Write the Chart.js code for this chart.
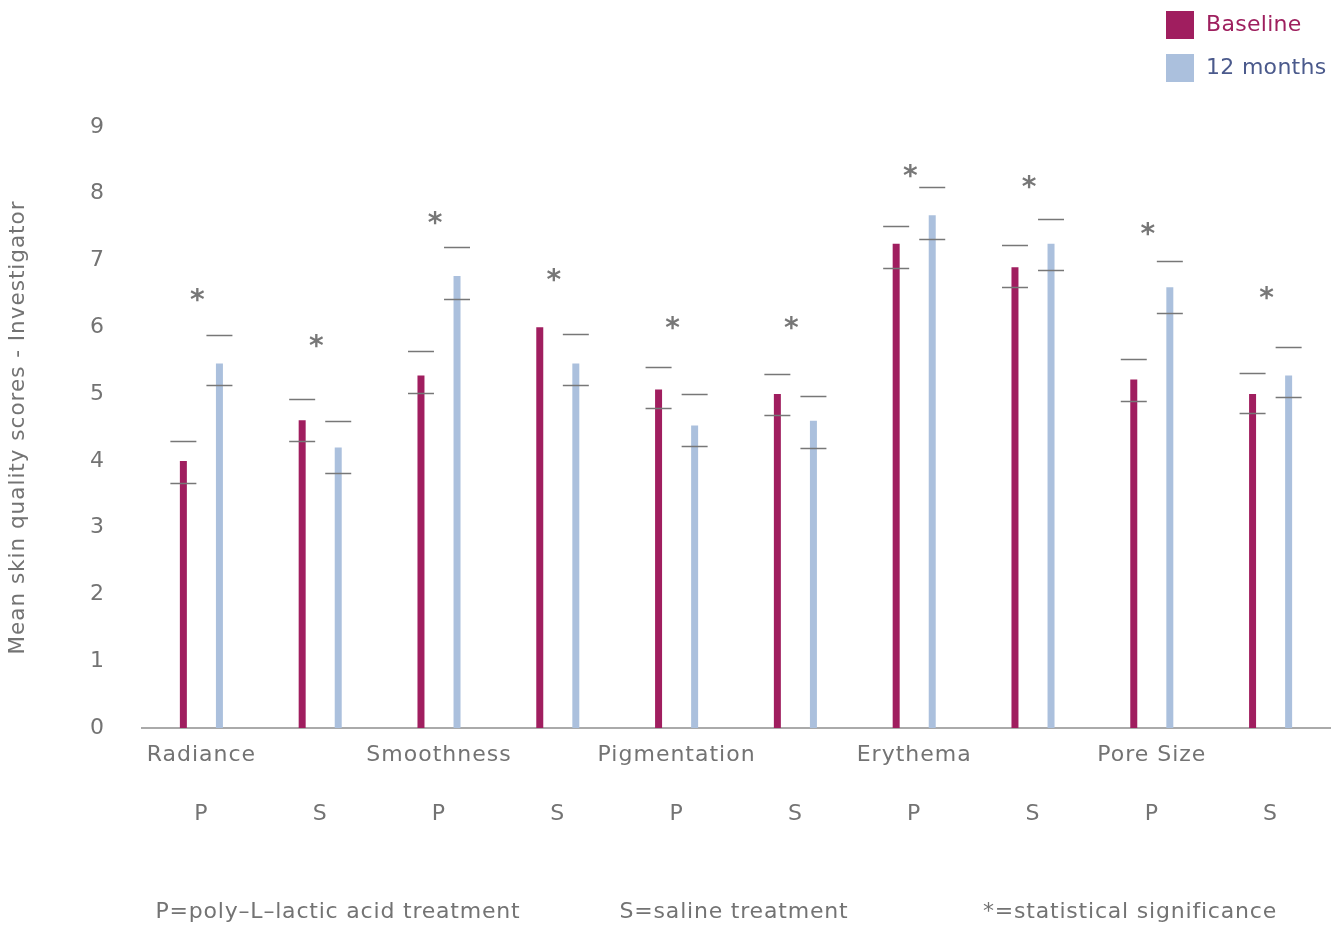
<!DOCTYPE html>
<html>
<head>
<meta charset="utf-8">
<script src="https://cdn.jsdelivr.net/npm/chart.js@4.4.1/dist/chart.umd.min.js"></script>
<style>
  html, body { margin: 0; padding: 0; background: #fff; }
  #wrap { width: 1334px; height: 925px; position: relative; }
</style>
</head>
<body>
<div id="wrap"><canvas id="myChart" width="1334" height="925"></canvas></div>
<script>
// categories and treatment groups
const categories = ['Radiance', 'Smoothness', 'Pigmentation', 'Erythema', 'Pore Size'];
const treatments = ['P', 'S', 'P', 'S', 'P', 'S', 'P', 'S', 'P', 'S'];

// mean scores
const baseline   = [4.0, 4.61, 5.28, 6.0, 5.07, 5.0, 7.25, 6.9, 5.22, 5.0];
const baselineHi = [4.3, 4.92, 5.64, null, 5.4, 5.3, 7.52, 7.23, 5.52, 5.32];
const baselineLo = [3.67, 4.3, 5.01, null, 4.79, 4.68, 6.89, 6.6, 4.89, 4.71];

const months12   = [5.46, 4.2, 6.77, 5.46, 4.53, 4.6, 7.68, 7.25, 6.6, 5.28];
const months12Hi = [5.89, 4.59, 7.2, 5.9, 5.0, 4.97, 8.1, 7.62, 6.99, 5.71];
const months12Lo = [5.13, 3.82, 6.43, 5.13, 4.23, 4.2, 7.32, 6.86, 6.21, 4.95];

// where the significance star sits for each group
const starLevel = [6.51, 5.83, 7.66, 6.82, 6.1, 6.1, 8.37, 8.2, 7.5, 6.54];

const yTicks = [0, 1, 2, 3, 4, 5, 6, 7, 8, 9];
const footnotes = ['P=poly\u2013L\u2013lactic acid treatment', 'S=saline treatment', '*=statistical significance'];

const FONT = 'DejaVu Sans';
const GREY = '#737373';

const labels = treatments.map((t, i) => i % 2 == 0 ? [categories[i / 2], '', t] : ['', '', t]);

// the original font is wider, so spread the letters a bit
const spacingPlugin = {
  id: 'spacing',
  beforeDraw(chart) { chart.ctx.letterSpacing = '1px'; }
};

// error caps (no whisker, just the two short lines) and the stars
const capsPlugin = {
  id: 'caps',
  afterDatasetsDraw(chart) {
    const ctx = chart.ctx;
    const y = chart.scales.y;
    const sets = [[baselineHi, baselineLo], [months12Hi, months12Lo]];
    ctx.save();
    ctx.strokeStyle = '#777';
    ctx.lineWidth = 1.5;
    sets.forEach((s, d) => {
      chart.getDatasetMeta(d).data.forEach((bar, i) => {
        [s[0][i], s[1][i]].forEach(v => {
          if (v == null) return;
          const py = Math.round(y.getPixelForValue(v)) + 0.5;
          ctx.beginPath();
          ctx.moveTo(bar.x - 13, py);
          ctx.lineTo(bar.x + 13, py);
          ctx.stroke();
        });
      });
    });
    ctx.letterSpacing = '0px';
    ctx.fillStyle = '#777';
    ctx.font = 'bold 28px ' + FONT;
    ctx.textAlign = 'center';
    ctx.textBaseline = 'alphabetic';
    starLevel.forEach((v, i) => {
      const px = chart.scales.x.getPixelForValue(i) - 4;
      ctx.fillText('*', px, y.getPixelForValue(v) + 16);
    });
    ctx.restore();
  }
};

// legend in the top right corner + footnotes
const extrasPlugin = {
  id: 'extras',
  afterDraw(chart) {
    const ctx = chart.ctx;
    ctx.save();
    ctx.letterSpacing = '0.3px';
    const textColors = ['#9e1f5e', '#4b5a8c'];
    chart.data.datasets.forEach((ds, i) => {
      const top = 11 + i * 43;
      ctx.fillStyle = ds.backgroundColor;
      ctx.fillRect(1166, top, 28, 28);
      ctx.fillStyle = textColors[i];
      ctx.font = '22px ' + FONT;
      ctx.textAlign = 'left';
      ctx.textBaseline = 'middle';
      ctx.fillText(ds.label, 1206, top + 14);
    });
    ctx.letterSpacing = '0.8px';
    ctx.fillStyle = GREY;
    ctx.font = '22px ' + FONT;
    ctx.textAlign = 'center';
    ctx.textBaseline = 'middle';
    const xs = [338, 734, 1130];
    footnotes.forEach((f, i) => ctx.fillText(f, xs[i], 912));
    ctx.restore();
  }
};

new Chart(document.getElementById('myChart'), {
  type: 'bar',
  data: {
    labels: labels,
    datasets: [
      { label: 'Baseline', data: baseline, backgroundColor: '#a01e5f' },
      { label: '12 months', data: months12, backgroundColor: '#abc0dd' }
    ]
  },
  options: {
    responsive: false,
    animation: false,
    categoryPercentage: 0.607,
    barPercentage: 0.194,
    layout: { padding: { left: 0, right: 4, top: 127, bottom: 0 } },
    plugins: {
      legend: { display: false },
      tooltip: { enabled: false }
    },
    scales: {
      x: {
        grid: { display: false, drawTicks: false },
        border: { display: true, color: '#aaa', width: 2 },
        ticks: {
          color: GREY,
          autoSkip: false,
          maxRotation: 0,
          padding: 13,
          font: { family: FONT, size: 22, lineHeight: 1.34 }
        },
        afterFit: s => { s.height = 197; }
      },
      y: {
        min: 0,
        max: 9,
        afterBuildTicks: s => { s.ticks = yTicks.map(v => ({ value: v })); },
        grid: { display: false, drawTicks: false },
        border: { display: false },
        ticks: {
          color: GREY,
          padding: 37,
          font: { family: FONT, size: 22 }
        },
        title: {
          display: true,
          text: 'Mean skin quality scores - Investigator',
          color: GREY,
          padding: { top: 6, bottom: 0 },
          font: { family: FONT, size: 21.5 }
        },
        afterFit: s => { s.width = 142; }
      }
    }
  },
  plugins: [spacingPlugin, capsPlugin, extrasPlugin]
});
</script>
</body>
</html>
